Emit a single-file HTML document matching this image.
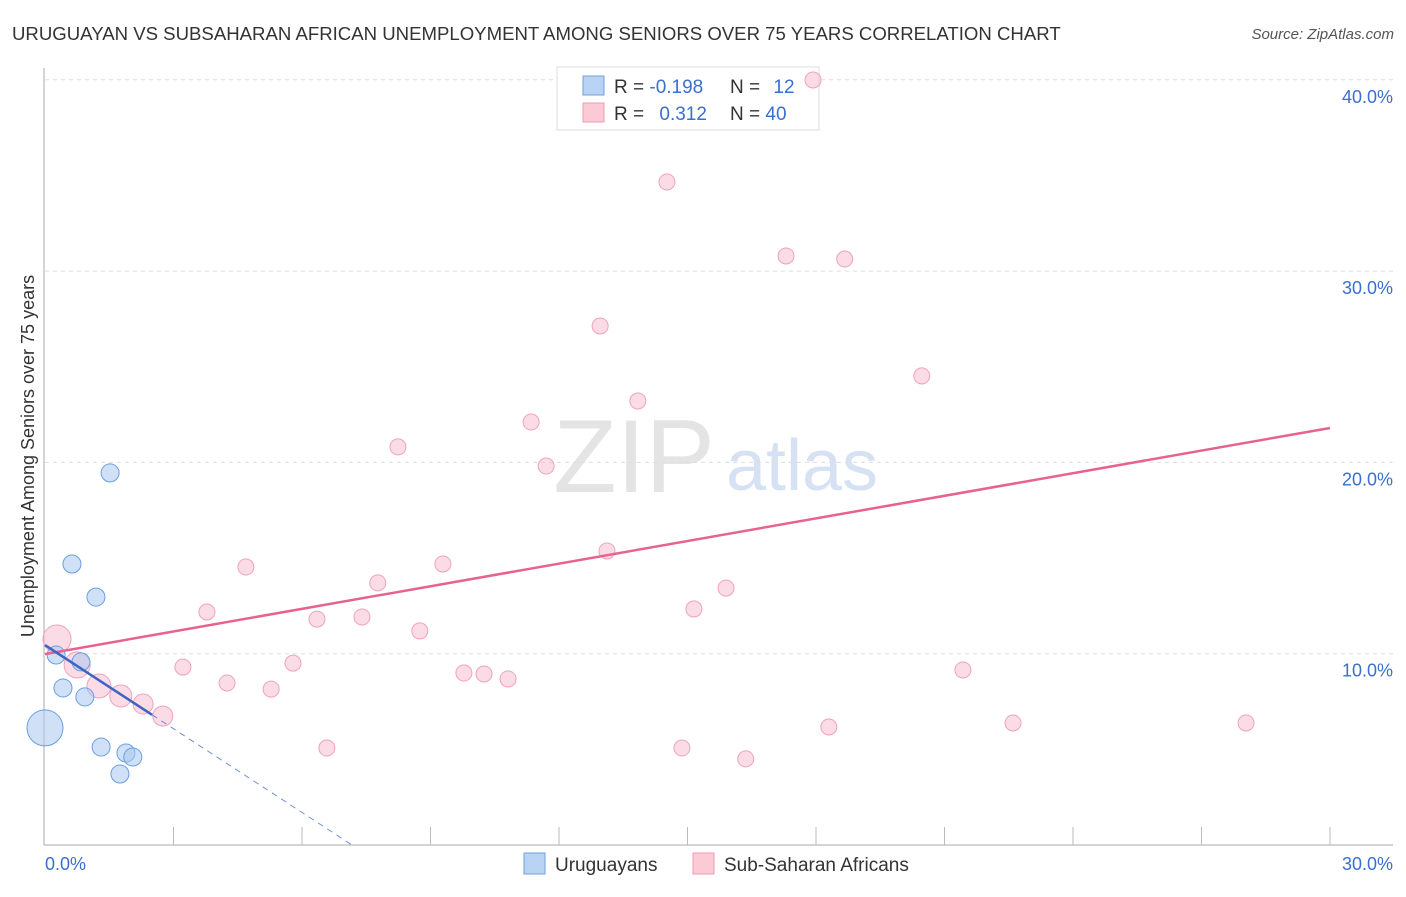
<!DOCTYPE html>
<html><head><meta charset="utf-8"><style>
body{margin:0;background:#fff;font-family:"Liberation Sans",sans-serif}
svg text{font-family:"Liberation Sans",sans-serif}
</style></head><body>
<svg id="chart" width="1406" height="892" xmlns="http://www.w3.org/2000/svg">
<text x="12" y="40" font-size="18.6" fill="#333">URUGUAYAN VS SUBSAHARAN AFRICAN UNEMPLOYMENT AMONG SENIORS OVER 75 YEARS CORRELATION CHART</text>
<text x="1394" y="39" font-size="15" fill="#555" text-anchor="end" font-style="italic">Source: ZipAtlas.com</text>
<g>
<text x="634" y="492" font-size="104" fill="#e4e4e4" text-anchor="middle" font-family="Liberation Serif">ZIP</text>
<text x="802" y="490" font-size="72" fill="#d6e2f3" text-anchor="middle">atlas</text>
</g>
<g id="grid"></g>
<g id="axes"></g>
<g>
<rect x="557" y="67" width="262" height="63" fill="#fff" stroke="#ddd"/>
<rect x="583" y="76" width="21" height="19" fill="#b9d3f5" stroke="#6fa0e0"/>
<rect x="583" y="103" width="21" height="19" fill="#fcc9d7" stroke="#ec9bb3"/>
<text x="614" y="93" font-size="19" fill="#333">R = <tspan fill="#3a6fd0">-0.198</tspan></text>
<text x="730" y="93" font-size="19" fill="#333">N = <tspan fill="#3a6fd0" dx="8">12</tspan></text>
<text x="614" y="120" font-size="19" fill="#333">R = <tspan fill="#3a6fd0" dx="10">0.312</tspan></text>
<text x="730" y="120" font-size="19" fill="#333">N = <tspan fill="#3a6fd0">40</tspan></text>
</g>
<g id="marks"></g>
<text transform="translate(34,456) rotate(-90)" font-size="18" fill="#333" text-anchor="middle">Unemployment Among Seniors over 75 years</text>
<g>
<rect x="524" y="853" width="21" height="21" fill="#b9d3f5" stroke="#6fa0e0"/>
<text x="555" y="871" font-size="19" fill="#333">Uruguayans</text>
<rect x="693" y="853" width="21" height="21" fill="#fcc9d7" stroke="#ec9bb3"/>
<text x="724" y="871" font-size="19" fill="#333">Sub-Saharan Africans</text>
</g>
</svg>
<script>
const yTicks=[10,20,30,40];
const yTickLabels=["10.0%","20.0%","30.0%","40.0%"];
const xTickLabels=["0.0%","30.0%"];
const blueX=[0.26,0.84,0.42,0.93,0.0,1.31,1.89,2.05,1.75,1.52,0.63,1.19];
const blueY=[9.93,9.57,8.21,7.74,6.12,5.12,4.81,4.60,3.71,19.45,14.69,12.96];
const blueR=[9,9,9,9,18,9,9,9,9,9,9,9];
const pinkX=[0.28,0.75,1.26,1.77,2.29,2.75,3.22,4.25,5.28,4.69,3.78,5.79,6.35,6.58,7.40,7.77,8.24,8.75,9.29,9.78,10.25,10.81,11.35,11.70,12.96,13.12,13.84,14.52,14.87,15.15,15.90,16.36,17.30,17.93,18.30,18.67,20.47,21.43,22.60,28.04];
const pinkY=[10.77,9.41,8.31,7.79,7.37,6.74,9.30,8.47,8.15,14.53,12.18,9.51,11.81,5.07,11.92,13.70,20.81,11.19,14.69,8.99,8.94,8.68,22.11,19.81,27.13,15.37,23.21,34.66,5.07,12.34,13.43,4.50,30.79,39.99,6.17,30.63,24.52,9.15,6.38,6.38];
const pinkR=[14,13,12,11,10,10];
const pinkTrend=[9.98,21.8];
const blueTrend=[10.45,-1.458];
const NS="http://www.w3.org/2000/svg";
const X=v=>45+v*1285/30;
const Y=v=>845-v*191.3/10;
function mk(tag,attrs,parent){const e=document.createElementNS(NS,tag);for(const k in attrs)e.setAttribute(k,attrs[k]);document.getElementById(parent).appendChild(e);return e;}
yTicks.forEach((t,i)=>{
 let g=mk('line',{x1:45,x2:1393,y1:Y(t),y2:Y(t),stroke:'#ddd','stroke-dasharray':'4,4'},'grid');
 
 
 let l=mk('text',{x:1393,y:Y(t)+23,'font-size':18,fill:'#3a6fd0','text-anchor':'end'},'grid');
 l.textContent=yTickLabels[i];
 
 
});
let ax=mk('line',{x1:44,x2:44,y1:68,y2:845,stroke:'#aaa'},'axes');


let bx=mk('line',{x1:44,x2:1393,y1:845,y2:845,stroke:'#aaa'},'axes');


for(let v=3;v<=30;v+=3){
 let t=mk('line',{x1:X(v),x2:X(v),y1:827,y2:845,stroke:'#bbb'},'axes');
 
 
}
[[0,'start',45],[30,'end',1393]].forEach((d,i)=>{
 let l=mk('text',{x:d[2],y:870,'font-size':18,fill:'#3a6fd0','text-anchor':d[1]},'axes');
 l.textContent=xTickLabels[i];
 
 
});
pinkX.forEach((x,i)=>{
 let c=mk('circle',{cx:X(x),cy:Y(pinkY[i]),r:pinkR[i]||8,fill:'rgba(248,185,205,0.5)',stroke:'#eea3bb','stroke-width':1},'marks');
 
 
});
blueX.forEach((x,i)=>{
 let c=mk('circle',{cx:X(x),cy:Y(blueY[i]),r:blueR[i],fill:'rgba(170,200,240,0.55)',stroke:'#6a9fe0','stroke-width':1},'marks');
 
 
});
let pt=mk('line',{x1:X(0),y1:Y(pinkTrend[0]),x2:X(30),y2:Y(pinkTrend[1]),stroke:'#e8628e','stroke-width':2.5},'marks');


const bEnd=-blueTrend[0]/blueTrend[1];
let bs=mk('line',{x1:X(0),y1:Y(blueTrend[0]),x2:X(2.5),y2:Y(blueTrend[0]+blueTrend[1]*2.5),stroke:'#3f63c4','stroke-width':2.5},'marks');


let bd=mk('line',{x1:X(2.5),y1:Y(blueTrend[0]+blueTrend[1]*2.5),x2:X(bEnd),y2:Y(0),stroke:'#6a8fd8','stroke-width':1,'stroke-dasharray':'6,5'},'marks');


</script>
</body></html>
